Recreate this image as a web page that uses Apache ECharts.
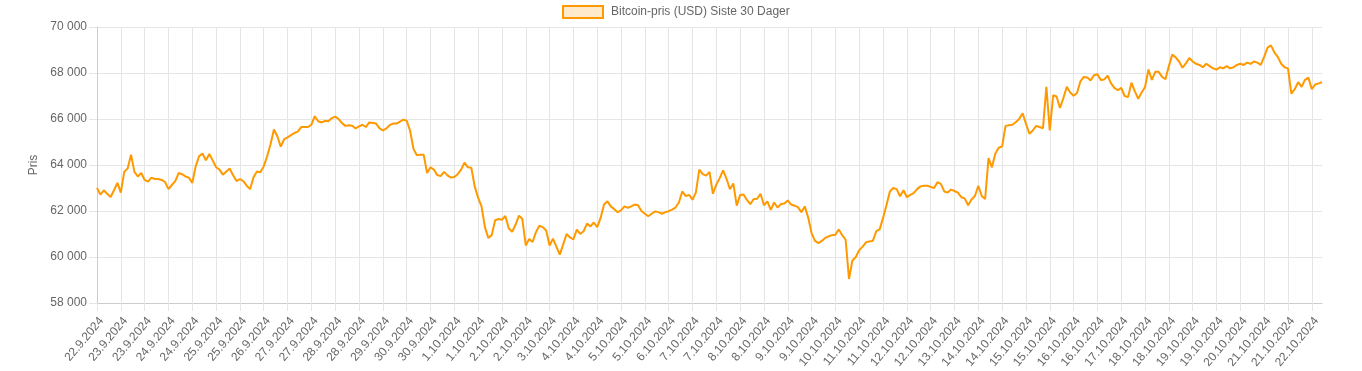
<!DOCTYPE html>
<html>
<head>
<meta charset="utf-8">
<script src="https://cdn.jsdelivr.net/npm/echarts@6/dist/echarts.min.js"></script>
<style>
  html, body { margin: 0; padding: 0; background: #fff; }
  #chart { width: 1362px; height: 371px; }
</style>
</head>
<body>
<div id="chart"></div>
<script>
// Tick labels shown on the x axis (every 7th two-hourly sample)
const tickLabels = [
  '22.9.2024','23.9.2024','23.9.2024','24.9.2024','24.9.2024','25.9.2024','25.9.2024','26.9.2024',
  '27.9.2024','27.9.2024','28.9.2024','28.9.2024','29.9.2024','30.9.2024','30.9.2024','1.10.2024',
  '1.10.2024','2.10.2024','2.10.2024','3.10.2024','4.10.2024','4.10.2024','5.10.2024','5.10.2024',
  '6.10.2024','7.10.2024','7.10.2024','8.10.2024','8.10.2024','9.10.2024','9.10.2024','10.10.2024',
  '11.10.2024','11.10.2024','12.10.2024','12.10.2024','13.10.2024','14.10.2024','14.10.2024','15.10.2024',
  '15.10.2024','16.10.2024','16.10.2024','17.10.2024','18.10.2024','18.10.2024','19.10.2024','19.10.2024',
  '20.10.2024','21.10.2024','21.10.2024','22.10.2024'
];
const labelStep = 7;

// Bitcoin price (USD), two-hourly samples
const prices = [
  63000, 62710, 62900, 62750, 62610, 62900, 63220,
  62800, 63700, 63850, 64450, 63700, 63500, 63650,
  63350, 63280, 63450, 63390, 63390, 63350, 63260,
  62950, 63130, 63300, 63650, 63600, 63500, 63450,
  63220, 63940, 64380, 64500, 64200, 64480, 64200,
  63900, 63800, 63580, 63720, 63850, 63550, 63300,
  63390, 63300, 63100, 62950, 63470, 63720, 63680,
  63940, 64380, 64900, 65540, 65250, 64800, 65120,
  65200, 65300, 65390, 65450, 65650, 65650, 65650,
  65750, 66120, 65900, 65850, 65920, 65900, 66040,
  66100, 66000, 65820, 65700, 65730, 65710, 65590,
  65680, 65750, 65650, 65850, 65830, 65800, 65600,
  65500, 65580, 65730, 65800, 65800, 65880, 65970,
  65930, 65500, 64700, 64420, 64450, 64450, 63650,
  63900, 63800, 63560, 63520, 63700, 63550, 63450,
  63480, 63600, 63800, 64100, 63900, 63880, 63070,
  62580, 62200, 61300, 60830, 60950, 61600, 61650,
  61620, 61780, 61250, 61100, 61400, 61800, 61650,
  60500, 60780, 60650, 61080, 61360, 61300, 61150,
  60500, 60800, 60450, 60100, 60550, 61000, 60850,
  60760, 61190, 61000, 61120, 61450, 61330, 61500,
  61300, 61700, 62280, 62420, 62200, 62080, 61950,
  62030, 62200, 62140, 62200, 62280, 62250, 62000,
  61880, 61770, 61880, 61980, 61950, 61880, 61950,
  61990, 62060, 62150, 62370, 62850, 62650, 62700,
  62490, 62810, 63800, 63600, 63540, 63700, 62750,
  63150, 63430, 63770, 63400, 62950, 63200, 62230,
  62700, 62720, 62480, 62300, 62520, 62530, 62750,
  62250, 62420, 62050, 62370, 62150, 62300, 62330,
  62460, 62280, 62230, 62170, 61950, 62200, 61720,
  61040, 60700, 60600, 60700, 60830, 60900, 60950,
  60970, 61200, 60950, 60750, 59050, 59850, 60000,
  60300, 60450, 60640, 60680, 60700, 61120, 61200,
  61700, 62250, 62850, 63000, 62950, 62640, 62900,
  62600, 62700, 62780, 62950, 63070, 63100, 63100,
  63050, 63000, 63250, 63180, 62850, 62800, 62930,
  62870, 62800, 62600, 62550, 62250, 62500, 62650,
  63100, 62650, 62520, 64300, 63900, 64500, 64750,
  64810, 65700, 65730, 65750, 65860, 66000, 66250,
  65800, 65360, 65500, 65700, 65650, 65600, 67400,
  65500, 67030, 66980, 66480, 66910, 67400, 67150,
  67010, 67130, 67640, 67830, 67800, 67680, 67900,
  67950, 67700, 67720, 67880, 67550, 67350, 67250,
  67350, 67000, 66950, 67580, 67200, 66880, 67150,
  67390, 68150, 67700, 68050, 68050, 67830, 67730,
  68300, 68800, 68680, 68500, 68230, 68420, 68650,
  68500, 68400, 68350, 68250, 68400, 68300, 68200,
  68150, 68250, 68200, 68300, 68200, 68250, 68350,
  68400, 68350, 68450, 68400, 68500, 68450, 68350,
  68700, 69100, 69200, 68900, 68700, 68400, 68250,
  68200, 67100, 67300, 67600, 67400, 67700, 67800,
  67300, 67500, 67550, 67600
];

const yMin = 58000, yMax = 70000, yStep = 2000;
const seriesName = 'Bitcoin-pris (USD) Siste 30 Dager';
const yTitle = 'Pris';

const categories = prices.map((_, i) => (i % labelStep === 0 ? (tickLabels[i / labelStep] || '') : ''));

const FONT = '"Liberation Sans", Arial, Helvetica, sans-serif';
const TXT = '#666666';
const GRID = '#e5e5e5';
const ORANGE = '#ff9900';

const chart = echarts.init(document.getElementById('chart'), null, { renderer: 'canvas' });
chart.setOption({
  animation: false,
  backgroundColor: '#ffffff',
  textStyle: { fontFamily: FONT },
  legend: {
    top: 0,
    left: 557,
    itemWidth: 40,
    itemHeight: 12,
    data: [{
      name: seriesName,
      icon: 'rect',
      itemStyle: { color: 'rgba(255,153,0,0.2)', borderColor: ORANGE, borderWidth: 2 }
    }],
    textStyle: { color: TXT, fontSize: 12, fontFamily: FONT, padding: [0, 0, 0, 3] }
  },
  grid: { left: 97, right: 40, top: 27, bottom: 68, containLabel: false },
  xAxis: {
    type: 'category',
    data: categories,
    boundaryGap: false,
    axisLine: { show: true, lineStyle: { color: '#cccccc', width: 1 } },
    axisTick: { show: true, interval: labelStep - 1, length: 8, lineStyle: { color: GRID } },
    splitLine: { show: true, interval: labelStep - 1, lineStyle: { color: GRID, width: 1 } },
    axisLabel: {
      interval: labelStep - 1,
      rotate: 50,
      margin: 12,
      verticalAlign: 'top',
      color: TXT,
      fontSize: 12,
      fontFamily: FONT
    }
  },
  yAxis: {
    type: 'value',
    min: yMin,
    max: yMax,
    interval: yStep,
    name: yTitle,
    nameLocation: 'middle',
    nameRotate: 90,
    nameGap: 49,
    nameTextStyle: { color: TXT, fontSize: 12, fontFamily: FONT },
    axisLine: { show: true, lineStyle: { color: '#cccccc', width: 1 } },
    axisTick: { show: true, length: 8, lineStyle: { color: GRID } },
    splitLine: { show: true, lineStyle: { color: GRID, width: 1 } },
    axisLabel: {
      margin: 10,
      color: TXT,
      fontSize: 12,
      fontFamily: FONT,
      formatter: v => String(v).replace(/\B(?=(\d{3})+(?!\d))/g, ' ')
    }
  },
  series: [{
    name: seriesName,
    type: 'line',
    data: prices,
    showSymbol: false,
    symbol: 'none',
    smooth: false,
    color: ORANGE,
    lineStyle: { color: ORANGE, width: 2 },
    emphasis: { disabled: true }
  }]
});
</script>
</body>
</html>
